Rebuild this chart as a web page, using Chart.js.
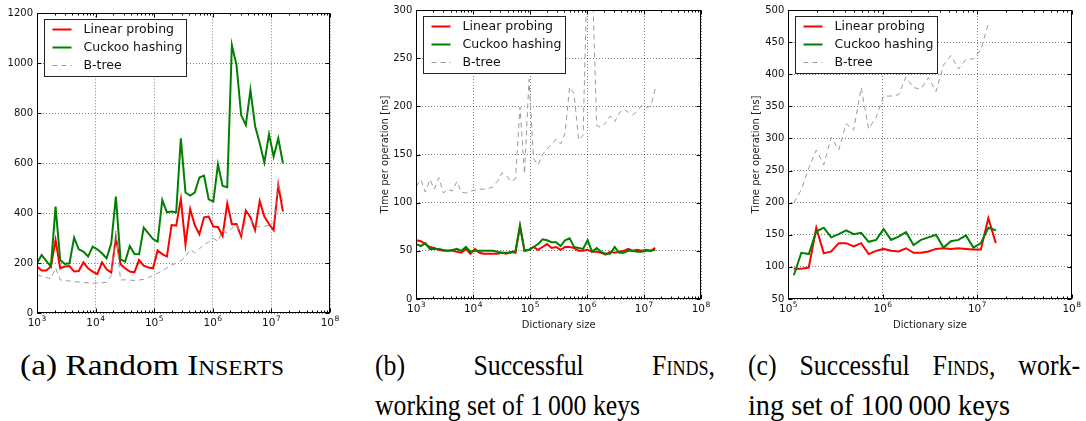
<!DOCTYPE html>
<html><head><meta charset="utf-8">
<script src="https://cdn.jsdelivr.net/npm/chart.js@4.4.0/dist/chart.umd.min.js"></script>
<style>
html,body{margin:0;padding:0;background:#fff;}
body{width:1086px;height:421px;position:relative;overflow:hidden;}
canvas{position:absolute;top:0;}
.cap{position:absolute;font-family:"Liberation Serif","Times New Roman",serif;font-size:30px;line-height:40px;color:#000;white-space:nowrap;transform-origin:0 0;}
.sc{font-variant:small-caps;}
.just{text-align:justify;text-align-last:justify;white-space:normal;}
</style></head><body>
<canvas id="ca" width="362" height="340" style="left:0px"></canvas>
<canvas id="cb" width="362" height="340" style="left:362px"></canvas>
<canvas id="cc" width="362" height="340" style="left:724px"></canvas>
<div class="cap fit" data-w="264" style="left:20px;top:345px;">(a) Random <span class="sc">Inserts</span></div>
<div class="cap just" data-w="340" style="left:375px;top:345px;">(b) Successful <span class="sc">Finds</span>,</div>
<div class="cap fit" data-w="265" style="left:375px;top:385px;">working set of 1&#8201;000 keys</div>
<div class="cap just" data-w="332" style="left:748px;top:345px;">(c) Successful <span class="sc">Finds</span>, work-</div>
<div class="cap fit" data-w="262" style="left:748px;top:385px;">ing set of 100&#8201;000 keys</div>
<script>
// ---- data ----
const sizes = [1000,1200,1440,1728,2074,2488,2986,3583,4300,5160,6192,7430,8916,10699,12839,15407,18488,22186,26623,31948,38338,46005,55206,66247,79497,95396,114475,137371,164845,197814,237376,284852,341822,410186,492224,590668,708802,850562,1020675,1224810,1469772,1763726,2116471,2539765,3047718,3657262,4388714,5266457,6319749,7583698,9100438,10920526,13104631,15725557];
const decades = [1e3,1e4,1e5,1e6,1e7,1e8];
const decadeBase = '10';
const decadeExps = ['3','4','5','6','7','8'];
const seriesNames = ['Linear probing','Cuckoo hashing','B-tree'];

// (a) Random inserts
const insertLinear = [187,171,171,187,293,180,187,189,167,169,204,180,167,157,204,176,163,304,196,180,167,164,213,191,183,180,251,237,227,353,351,457,276,417,353,316,384,387,347,345,309,440,356,357,307,411,384,333,449,387,357,333,513,407];
const insertCuckoo = [200,233,210,187,427,213,197,200,303,256,247,227,267,256,240,220,280,467,216,207,269,237,236,343,320,297,287,453,404,407,404,700,483,471,483,543,551,456,447,596,509,504,1073,993,793,753,893,749,680,603,716,627,700,600];
const insertBtree = [153,148,143,138,182,134,131,129,127,125,123,122,121,121,122,124,150,330,133,134,133,131,133,136,143,152,160,170,182,193,200,210,225,255,242,258,275,285,300,288,330,320,340,355,318,365,375,350,345,348,352,365,520,445];

// (b) Successful finds, working set 1 000 keys
const find1kLinear = [61,60,57,54,53,51,50,50,50,49,48,52,47,52,48,47,47,47,47,48,47,49,48,76,50,51,54,51,54,57,53,54,51,54,54,53,50,50,51,49,49,48,46,49,48,49,50,52,50,51,50,51,50,53];
const find1kCuckoo = [57,55,58,52,52,52,51,50,51,52,50,54,49,50,50,50,50,50,49,48,48,48,50,76,50,51,54,57,62,61,59,59,55,61,63,54,53,52,61,49,53,49,47,47,54,48,48,50,50,49,49,50,50,51];
const find1kBtree = [117,124,111,124,114,126,110,114,112,122,111,110,112,113,114,114,115,116,122,131,128,122,125,199,130,228,146,139,150,156,160,166,161,172,220,213,165,170,360,340,180,178,183,190,184,193,197,194,191,195,201,199,200,218];

// (c) Successful finds, working set 100 000 keys
const sizesC = [114475,137371,164845,197814,237376,284852,341822,410186,492224,590668,708802,850562,1020675,1224810,1469772,1763726,2116471,2539765,3047718,3657262,4388714,5266457,6319749,7583698,9100438,10920526,13104631,15725557];
const find100kLinear = [97,97,99,161,121,124,137,137,132,137,120,125,128,125,124,129,122,122,124,128,129,128,129,128,127,127,176,137];
const find100kCuckoo = [87,122,120,155,161,146,151,157,151,153,139,142,159,142,147,154,134,142,146,150,130,140,142,149,130,137,161,157];
const find100kBtree = [200,220,254,282,259,302,282,323,313,379,315,333,366,366,368,396,379,377,395,373,414,429,408,423,424,438,479];

// ---- styles ----
const FONT = 'DejaVu Sans';
const RED = '#ff0000', GREEN = '#008000', GRAY = '#9a9a9a';

function pts(xs, ys){ return ys.map((y,i)=>({x:xs[i], y:y})); }

function makeSets(xs, lin, cuc, bt){
  return [
    {label:seriesNames[0], data:pts(xs,lin), borderColor:RED, borderWidth:2, order:3},
    {label:seriesNames[1], data:pts(xs,cuc), borderColor:GREEN, borderWidth:2, order:2},
    {label:seriesNames[2], data:pts(xs,bt), borderColor:GRAY, borderWidth:1, borderDash:[5,4], order:1}
  ];
}

const framePlugin = {
  id:'frameTicks',
  afterDatasetsDraw(chart){
    const ctx = chart.ctx, a = chart.chartArea;
    const xs = chart.scales.x, ys = chart.scales.y;
    ctx.save();
    ctx.strokeStyle = '#000'; ctx.lineWidth = 1; ctx.setLineDash([]);
    const L = Math.round(a.left)+0.5, R = Math.round(a.right)-0.5, T = Math.round(a.top)+0.5, B = Math.round(a.bottom)-0.5;
    ctx.strokeRect(L, T, R-L, B-T);
    ctx.beginPath();
    for (let d = xs.min; d < xs.max*1.0001; d *= 10){
      for (let m = 1; m <= 9; m++){
        const v = d*m; if (v > xs.max*1.0001) break;
        const px = Math.round(xs.getPixelForValue(v))+0.5;
        const len = m === 1 ? 4 : 2;
        ctx.moveTo(px, B); ctx.lineTo(px, B-len);
        ctx.moveTo(px, T); ctx.lineTo(px, T+len);
      }
    }
    ys.ticks.forEach(t=>{
      const py = Math.round(ys.getPixelForValue(t.value))+0.5;
      ctx.moveTo(L, py); ctx.lineTo(L+4, py);
      ctx.moveTo(R, py); ctx.lineTo(R-4, py);
    });
    ctx.stroke();
    // x tick labels: 10 with superscript exponent
    ctx.fillStyle = '#111'; ctx.textBaseline = 'alphabetic';
    decades.forEach((d,i)=>{
      if (d < xs.min*0.999 || d > xs.max*1.001) return;
      const px = xs.getPixelForValue(d);
      ctx.font = '10.5px "' + FONT + '"';
      const wb = ctx.measureText(decadeBase).width;
      ctx.font = '7.5px "' + FONT + '"';
      const we = ctx.measureText(decadeExps[i]).width;
      const x0 = px - (wb + we + 0.5)/2;
      const base = B + 13;
      ctx.font = '10.5px "' + FONT + '"'; ctx.textAlign = 'left';
      ctx.fillText(decadeBase, x0, base);
      ctx.font = '7.5px "' + FONT + '"';
      ctx.fillText(decadeExps[i], x0 + wb + 0.5, base - 5);
    });
    // legend box
    ctx.font = '12.5px "' + FONT + '"';
    const sets = chart.data.datasets;
    const tw = Math.max(...sets.map(s=>ctx.measureText(s.label).width));
    const x0 = Math.round(a.left)+7.5, y0 = Math.round(a.top)+6.5;
    const w = Math.round(39 + tw + 4), h = 57;
    ctx.fillStyle = '#fff'; ctx.fillRect(x0, y0, w, h);
    ctx.strokeStyle = '#222'; ctx.lineWidth = 1; ctx.strokeRect(x0, y0, w, h);
    sets.forEach((s,i)=>{
      const y = y0 + 10 + i*18;
      ctx.beginPath();
      ctx.setLineDash(s.borderDash || []);
      ctx.strokeStyle = s.borderColor; ctx.lineWidth = s.borderWidth;
      ctx.moveTo(x0+8, y); ctx.lineTo(x0+27, y); ctx.stroke();
      ctx.setLineDash([]);
      ctx.fillStyle = '#111'; ctx.textBaseline = 'middle'; ctx.textAlign = 'left';
      ctx.fillText(s.label, x0+39, y+0.5);
    });
    ctx.restore();
  }
};

function makeChart(id, cfg){
  return new Chart(document.getElementById(id), {
    type:'line',
    data:{datasets:cfg.datasets},
    options:{
      responsive:false, animation:false, devicePixelRatio:1,
      layout:{padding:{left:0, right:cfg.padR, top:cfg.padT, bottom:0}},
      plugins:{legend:{display:false}, tooltip:{enabled:false}},
      elements:{point:{radius:0, hoverRadius:0}, line:{tension:0, fill:false}},
      scales:{
        x:{
          type:'logarithmic', min:cfg.xmin, max:1e8,
          afterBuildTicks: ax => { ax.ticks = decades.filter(v=>v>=cfg.xmin).map(v=>({value:v})); },
          afterFit: ax => { ax.height = cfg.xH; },
          ticks:{display:false},
          grid:{color:'rgba(0,0,0,0.5)', lineWidth:1, drawTicks:false},
          border:{display:false, dash:[1,2]},
          title:{display:!!cfg.xTitle, text:cfg.xTitle||'', color:'#222', font:{family:FONT, size:10}, padding:{top:0, bottom:9}}
        },
        y:{
          type:'linear', min:cfg.ymin, max:cfg.ymax,
          afterFit: ax => { ax.width = cfg.yW; },
          ticks:{stepSize:cfg.step, callback:(v)=>String(v), font:{family:FONT, size:10}, color:'#111', padding:4},
          grid:{color:'rgba(0,0,0,0.5)', lineWidth:1, drawTicks:false},
          border:{display:false, dash:[1,2]},
          title:{display:!!cfg.yTitle, text:cfg.yTitle||'', color:'#222', font:{family:FONT, size:10}, padding:{top:cfg.yTitlePad||0, bottom:0}}
        }
      }
    },
    plugins:[framePlugin]
  });
}

makeChart('ca', {datasets:makeSets(sizes, insertLinear, insertCuckoo, insertBtree),
  xmin:1e3, ymin:0, ymax:1200, step:200, padR:32, padT:13.3, xH:26.7, yW:37});
makeChart('cb', {datasets:makeSets(sizes, find1kLinear, find1kCuckoo, find1kBtree),
  xmin:1e3, ymin:0, ymax:300, step:50, padR:23, padT:6.7, xH:41, yW:54.3,
  xTitle:'Dictionary size', yTitle:'Time per operation [ns]', yTitlePad:17});
makeChart('cc', {datasets:makeSets(sizesC, find100kLinear, find100kCuckoo, find100kBtree),
  xmin:1e5, ymin:50, ymax:500, step:50, padR:14.3, padT:6.7, xH:41, yW:64.3,
  xTitle:'Dictionary size', yTitle:'Time per operation [ns]', yTitlePad:26});

// fit caption lines to their widths in the reference (horizontally condensed serif)
const SQ = 0.86;
document.querySelectorAll('.cap').forEach(el=>{
  const target = parseFloat(el.dataset.w);
  if (el.classList.contains('just')) {
    el.style.width = (target / SQ) + 'px';
    el.style.transform = 'scaleX(' + SQ + ')';
  } else {
    const w = el.getBoundingClientRect().width;
    el.style.transform = 'scaleX(' + (target / w) + ')';
  }
});
</script>
</body></html>
